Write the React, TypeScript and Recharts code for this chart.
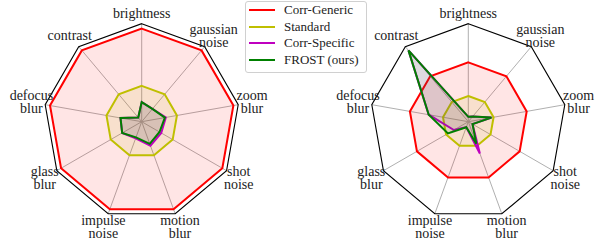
import { PolarAngleAxis, PolarGrid, PolarRadiusAxis, Radar, RadarChart } from "recharts";

const CATEGORIES = [
  "brightness",
  "gaussian noise",
  "zoom blur",
  "shot noise",
  "motion blur",
  "impulse noise",
  "glass blur",
  "defocus blur",
  "contrast"
];

// left panel
const LEFT_CORR_GENERIC = [0.95, 0.95, 0.95, 0.95, 0.95, 0.95, 0.95, 0.95, 0.95];
const LEFT_STANDARD = [0.365, 0.365, 0.365, 0.365, 0.365, 0.365, 0.365, 0.365, 0.365];
const LEFT_CORR_SPECIFIC = [0.2, 0.17, 0.25, 0.23, 0.26, 0.18, 0.23, 0.22, 0.055];
const LEFT_FROST = [0.2, 0.17, 0.24, 0.21, 0.24, 0.17, 0.23, 0.22, 0.055];

// right panel
const RIGHT_CORR_GENERIC = [0.605, 0.605, 0.605, 0.605, 0.605, 0.605, 0.605, 0.605, 0.605];
const RIGHT_STANDARD = [0.262, 0.262, 0.262, 0.262, 0.262, 0.262, 0.262, 0.262, 0.262];
const RIGHT_CORR_SPECIFIC = [0.05, 0.07, 0.24, 0.05, 0.345, 0.06, 0.17, 0.41, 0.95];
const RIGHT_FROST = [0.05, 0.07, 0.24, 0.05, 0.24, 0.06, 0.24, 0.41, 0.95];

const SERIES = [
  { key: "corrGeneric", name: "Corr-Generic", color: "#ff0000" },
  { key: "standard", name: "Standard", color: "#bfbf00" },
  { key: "corrSpecific", name: "Corr-Specific", color: "#bf00bf" },
  { key: "frost", name: "FROST (ours)", color: "#008000" }
];

const FONT = "'Liberation Serif', 'Times New Roman', serif";
const RADIUS = 98;
const CY = 121.7;

function buildRows(cg: number[], st: number[], cs: number[], fr: number[]) {
  return CATEGORIES.map((name, i) => ({
    name,
    corrGeneric: cg[i],
    standard: st[i],
    corrSpecific: cs[i],
    frost: fr[i]
  }));
}

const leftData = buildRows(LEFT_CORR_GENERIC, LEFT_STANDARD, LEFT_CORR_SPECIFIC, LEFT_FROST);
const rightData = buildRows(RIGHT_CORR_GENERIC, RIGHT_STANDARD, RIGHT_CORR_SPECIFIC, RIGHT_FROST);

function AngleTick({ payload, cx }: any) {
  const name = String(payload.value);
  const angle = Number(payload.coordinate);
  const lines = name === "brightness" || name === "contrast" ? [name] : name.split(" ");
  const d = name === "brightness" ? 10 : 14;
  const rad = (-angle * Math.PI) / 180;
  const x = cx + (RADIUS + d) * Math.cos(rad);
  const y = CY + (RADIUS + d) * Math.sin(rad);
  const lh = 13;
  const top = y - ((lines.length - 1) * lh) / 2;
  return (
    <text textAnchor="middle" fontFamily={FONT} fontSize={14} fill="#222">
      {lines.map((line, i) => (
        <tspan key={line} x={x} y={top + i * lh + 4.5}>
          {line}
        </tspan>
      ))}
    </text>
  );
}

function RadarPanel({ data, cx, left }: { data: any[]; cx: number; left: number }) {
  return (
    <div style={{ position: "absolute", left, top: 0 }}>
      <RadarChart
        width={300}
        height={243}
        data={data}
        cx={cx}
        cy={CY}
        outerRadius={RADIUS}
        margin={{ top: 0, right: 0, bottom: 0, left: 0 }}
      >
        <PolarGrid gridType="polygon" polarRadius={[]} stroke="#b0b0b0" strokeWidth={1} />
        <PolarRadiusAxis domain={[0, 1]} tick={false} axisLine={false} />
        <PolarAngleAxis
          dataKey="name"
          axisLineType="polygon"
          axisLine={{ stroke: "#000", strokeWidth: 1.1 }}
          tickLine={false}
          tick={(p: any) => <AngleTick {...p} cx={cx} />}
        />
        {SERIES.map((s) => (
          <Radar
            key={s.key}
            dataKey={s.key}
            name={s.name}
            stroke={s.color}
            strokeWidth={2}
            fill={s.color}
            fillOpacity={0.1}
            dot={false}
            isAnimationActive={false}
          />
        ))}
      </RadarChart>
    </div>
  );
}

function LegendBox() {
  return (
    <div
      style={{
        position: "absolute",
        left: 245,
        top: 1,
        width: 120,
        height: 70,
        border: "1px solid #d0d0d0",
        borderRadius: 3,
        background: "rgba(255,255,255,0.8)",
        fontFamily: FONT,
        fontSize: 13,
        color: "#222"
      }}
    >
      {SERIES.map((s) => (
        <div key={s.key} style={{ display: "flex", alignItems: "center", height: 16.5 }}>
          <span style={{ display: "inline-block", width: 26, height: 2, marginLeft: 3, marginRight: 9, background: s.color }} />
          <span style={{ lineHeight: "16.5px", whiteSpace: "nowrap" }}>{s.name}</span>
        </div>
      ))}
    </div>
  );
}

export default function App() {
  return (
    <div style={{ position: "absolute", left: 0, top: 0, width: 598, height: 243, background: "#fff" }}>
      <RadarPanel data={leftData} cx={141.7} left={0} />
      <RadarPanel data={rightData} cx={168.3} left={300} />
      <LegendBox />
    </div>
  );
}
